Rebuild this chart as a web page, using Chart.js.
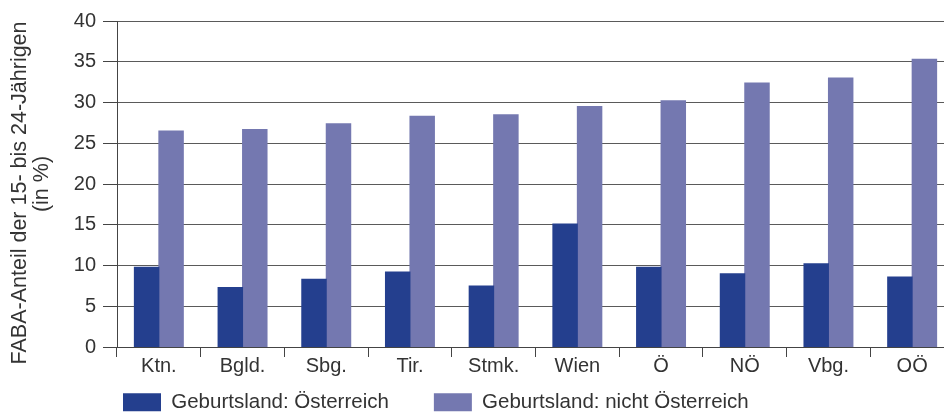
<!DOCTYPE html>
<html>
<head>
<meta charset="utf-8">
<script src="https://cdn.jsdelivr.net/npm/chart.js@4/dist/chart.umd.min.js"></script>
<style>
  html, body { margin: 0; padding: 0; background: #fff; overflow: hidden; }
  #wrap { position: relative; width: 960px; height: 413px; }
</style>
</head>
<body>
<div id="wrap"><canvas id="c" width="960" height="413"></canvas></div>
<script>
const categories = ['Ktn.', 'Bgld.', 'Sbg.', 'Tir.', 'Stmk.', 'Wien', 'Ö', 'NÖ', 'Vbg.', 'OÖ'];
const seriesNames = ['Geburtsland: Österreich', 'Geburtsland: nicht Österreich'];
const austria = [9.8, 7.3, 8.3, 9.2, 7.5, 15.1, 9.8, 9.0, 10.2, 8.6];
const notAustria = [26.5, 26.7, 27.4, 28.3, 28.5, 29.5, 30.2, 32.4, 33.0, 35.3];
const yTicks = [0, 5, 10, 15, 20, 25, 30, 35, 40];
const yTitle = ['FABA-Anteil der 15- bis 24-Jährigen   ', '(in %)'];

const FONT = "'Liberation Sans', Arial, Helvetica, sans-serif";
const TEXT = '#333333';
const LEG_PAD = 45;
const LEG_H = 26;

const legendMover = {
  id: 'legendMover',
  beforeLayout(chart) {
    const lg = chart.legend;
    if (lg && !lg._fitPatched) {
      const orig = lg.fit;
      lg.fit = function () { orig.call(this); this.height = LEG_H; };
      lg._fitPatched = true;
    }
  },
  beforeDraw(chart) {
    const lg = chart.legend;
    if (!lg) return;
    lg.left = 123 - LEG_PAD;
    lg.right = 960;
    lg.top = 392 - LEG_PAD;
    lg.bottom = 413;
    lg.width = lg.right - lg.left;
    lg.height = lg.bottom - lg.top;
  }
};

new Chart(document.getElementById('c'), {
  type: 'bar',
  data: {
    labels: categories,
    datasets: [
      { label: seriesNames[0], data: austria, backgroundColor: '#243F8E', borderWidth: 0,
        inflateAmount: 0.5, categoryPercentage: 0.585, barPercentage: 1.0 },
      { label: seriesNames[1], data: notAustria, backgroundColor: '#7478B0', borderWidth: 0,
        inflateAmount: 0.5, categoryPercentage: 0.585, barPercentage: 1.0 }
    ]
  },
  options: {
    responsive: false,
    animation: false,
    devicePixelRatio: 1,
    layout: { padding: { top: 21, right: 6, left: 0, bottom: 0 } },
    plugins: {
      tooltip: { enabled: false },
      legend: {
        position: 'bottom',
        align: 'start',
        labels: {
          boxWidth: 38,
          boxHeight: 18,
          padding: LEG_PAD,
          color: TEXT,
          font: { family: FONT, size: 20.5 }
        }
      }
    },
    scales: {
      x: {
        grid: {
          offset: true,
          drawOnChartArea: false,
          drawTicks: true,
          tickLength: 10,
          color: '#444',
          lineWidth: 1
        },
        border: { color: '#444', width: 1 },
        ticks: {
          color: TEXT,
          padding: -3,
          font: { family: FONT, size: 20, lineHeight: 1.2 },
          maxRotation: 0,
          autoSkip: false
        },
        afterFit(scale) {
          scale.height = 413 - 347 - LEG_H;
        }
      },
      y: {
        min: 0,
        max: 40,
        afterBuildTicks(scale) {
          scale.ticks = yTicks.map(v => ({ value: v }));
        },
        grid: {
          color: '#5a5a5a',
          lineWidth: 1,
          tickLength: 14,
          tickColor: '#444'
        },
        border: { color: '#444', width: 1 },
        ticks: {
          color: TEXT,
          padding: 7,
          font: { family: FONT, size: 20 }
        },
        title: {
          display: true,
          text: yTitle,
          color: TEXT,
          font: { family: FONT, size: 21.5, lineHeight: 1.05 },
          padding: { top: 8.7, bottom: 0 }
        },
        afterFit(scale) {
          scale.width = 117;
        }
      }
    }
  },
  plugins: [legendMover]
});
</script>
</body>
</html>
